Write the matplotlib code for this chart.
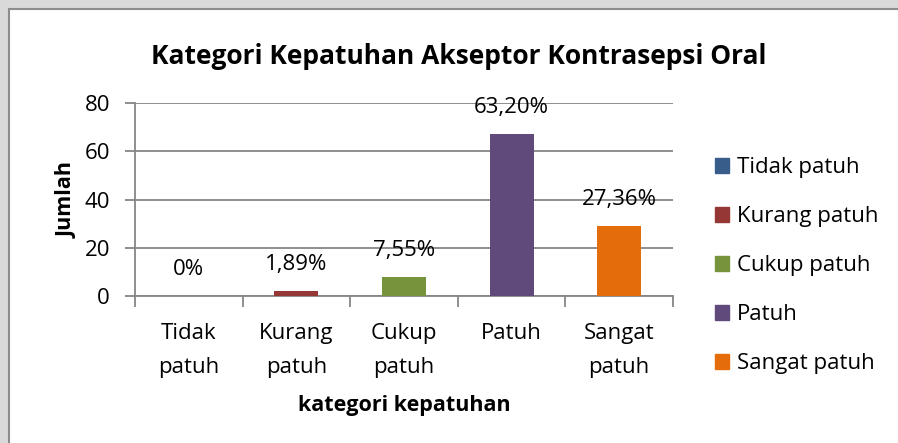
from matplotlib import pyplot as plt
from matplotlib.patches import Rectangle, Patch

kategori = ["Tidak patuh", "Kurang patuh", "Cukup patuh", "Patuh", "Sangat patuh"]
label_sumbu = ["Tidak\npatuh", "Kurang\npatuh", "Cukup\npatuh", "Patuh\n", "Sangat\npatuh"]
jumlah = [0, 2, 8, 67, 29]
persen = ["0%", "1,89%", "7,55%", "63,20%", "27,36%"]
warna = ["#385D8A", "#953735", "#77933C", "#604A7B", "#E46C0A"]

plt.rcParams['font.family'] = ['Open Sans', 'DejaVu Sans']

fig = plt.figure(figsize=(8.98, 4.43), dpi=100)
fig.patch.set_facecolor("#d9d9d9")
# bingkai chart area
fig.patches.append(Rectangle((9/898, -0.2), 1.2, 1 - 9/443 + 0.2, transform=fig.transFigure,
                             facecolor="white", edgecolor="#8c8c8c", lw=1.5, zorder=-5))

ax = fig.add_axes([0.1503, 0.3318, 0.5991, 0.4357])
ax.set_facecolor("none")
x = range(len(kategori))
ax.bar(x, jumlah, width=0.41, color=warna, zorder=3)

for i in x:
    ax.annotate(persen[i], (i, jumlah[i]), xytext=(0, 19), textcoords="offset points",
                ha="center", va="center", fontsize=16, color="#000000")

ax.set_xlim(-0.5, 4.5)
ax.set_ylim(0, 80)
ax.set_yticks([0, 20, 40, 60, 80])
ax.yaxis.grid(True, color="#868686", lw=1.3, zorder=0)
ax.set_xticks([i + 0.5 for i in range(-1, 5)], minor=False)
ax.set_xticklabels([])
ax.set_xticks(list(x), minor=True)
ax.set_xticklabels(label_sumbu, minor=True, fontsize=16, linespacing=1.8)
ax.tick_params(axis="x", which="major", length=8, width=1.3, color="#868686", direction="out")
ax.tick_params(axis="x", which="minor", length=0, pad=19.5)
ax.tick_params(axis="y", length=7, width=1.3, color="#868686", labelsize=16, pad=11)
for s in ["top", "right"]:
    ax.spines[s].set_visible(False)
ax.spines["left"].set_color("#868686")
ax.spines["bottom"].set_color("#868686")
ax.spines["left"].set_linewidth(1.3)
ax.spines["bottom"].set_linewidth(1.3)

ax.set_ylabel("Jumlah", fontsize=15.5, fontweight="bold", labelpad=5)
ax.set_xlabel("kategori kepatuhan", fontsize=15.5, fontweight="bold", labelpad=12)

fig.text(0.511, 1 - 57/443, "Kategori Kepatuhan Akseptor Kontrasepsi Oral",
         ha="center", va="center", fontsize=19, fontweight="bold")

handles = [Patch(color=c) for c in warna]
fig.legend(handles, kategori, loc="upper left", bbox_to_anchor=(706/898, 1 - 148/443),
           frameon=False, fontsize=16, handlelength=0.65, handleheight=0.65,
           handletextpad=0.35, labelspacing=1.26, borderaxespad=0)

fig.savefig("out.png", dpi=100, facecolor=fig.get_facecolor())
